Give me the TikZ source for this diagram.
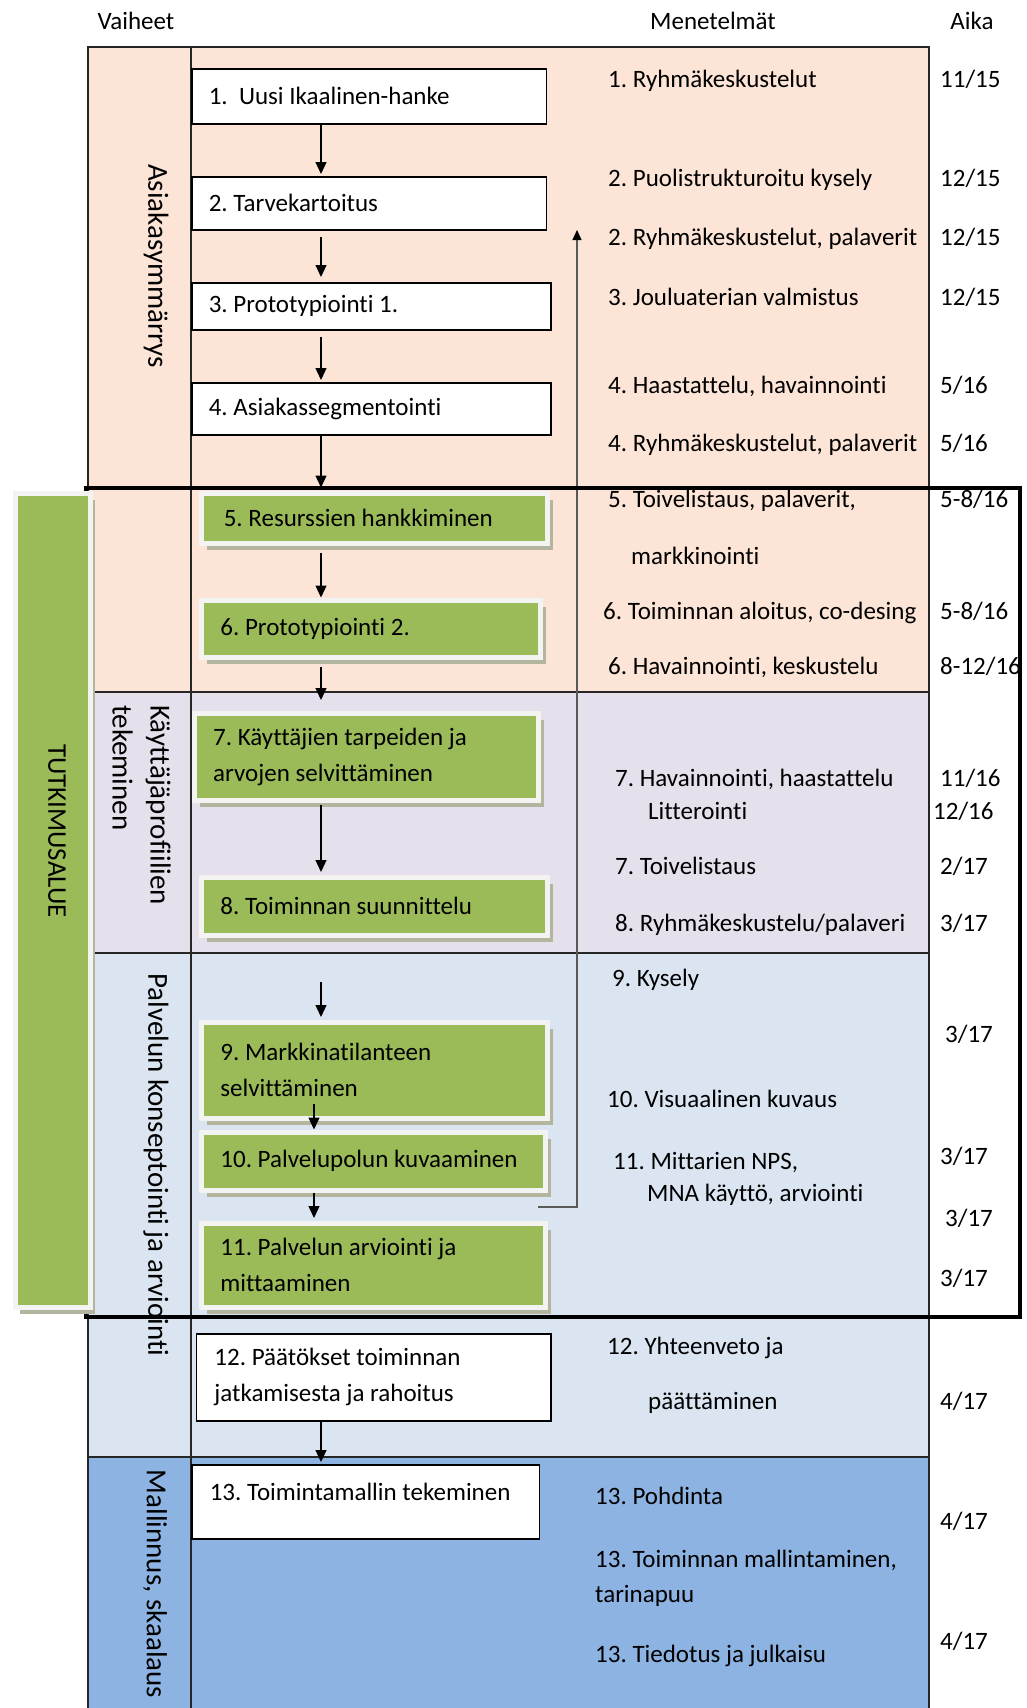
\documentclass[tikz,border=0pt]{standalone}
\usepackage{fontspec}
\setmainfont{Carlito}[Ligatures=NoCommon]
\usetikzlibrary{arrows.meta,shadows,calc}
\frenchspacing
\definecolor{peach}{HTML}{FCE4D6}
\definecolor{lav}{HTML}{E5E0EC}
\definecolor{lblue}{HTML}{DBE5F1}
\definecolor{dblue}{HTML}{8DB3E2}
\definecolor{ogreen}{HTML}{9BBB59}
\definecolor{gborder}{HTML}{F3F3F1}
\definecolor{gshadow}{HTML}{B3B59E}
\begin{document}
\begin{tikzpicture}[x=1pt,y=-1pt,
  every node/.style={font=\fontsize{25}{36}\selectfont},
  gridline/.style={line width=1.5pt, draw=black!85},
  whitebox/.style={draw=black, line width=1.5pt, fill=white, anchor=north west,
    inner xsep=17pt, inner ysep=0pt, align=flush left},
  greenbox/.style={draw=gborder, line width=5pt, fill=ogreen, anchor=north west,
    inner xsep=18.6pt, inner ysep=0pt, align=flush left,
    drop shadow={shadow xshift=5pt, shadow yshift=-7pt, fill=gshadow, opacity=1}},
  arr/.style={line width=1.3pt, -{Triangle[length=12pt,width=11pt]}},
  thinarr/.style={line width=1.2pt, draw=black!65, -{Triangle[length=10pt,width=9pt,color=black]}},
  meth/.style={anchor=mid west, inner sep=0pt, yshift=-2pt},
  phase/.style={rotate=-90, inner sep=0pt, font=\fontsize{29}{39}\selectfont},
  head/.style={inner sep=0pt},
]
\useasboundingbox (0,0) rectangle (1026,1708);

% phase bands
\fill[peach] (88,47) rectangle (929,692);
\fill[lav] (88,692) rectangle (929,953);
\fill[lblue] (88,953) rectangle (929,1457);
\fill[dblue] (88,1457) rectangle (929,1708);

% grid lines
\draw[gridline] (88,1708) -- (88,47) -- (929,47) -- (929,1708);
\draw[gridline] (191,47) -- (191,1708);
\draw[gridline] (88,692) -- (929,692);
\draw[gridline] (88,953) -- (929,953);
\draw[gridline] (88,1457) -- (929,1457);

% headers
\node[head] (hvaiheet) at (136,21) {Vaiheet};
\node[head] (hmenet) at (713,21) {Menetelmät};
\node[head] (haika) at (972,21) {Aika};

% phase labels
\node[phase] (pasiakas) at (156,266) {Asiakasymmärrys};
\node[phase, anchor=north west, align=flush left, font=\fontsize{29}{38}\selectfont] (pkayt) at (171,705) {Käyttäjäprofiilien\\tekeminen};
\node[phase] (ppalvelu) at (156,1165) {Palvelun konseptointi ja arviointi};
\node[phase] (pmallinnus) at (155,1584) {Mallinnus, skaalaus};

% thin feedback connector
\coordinate (fbstart) at (538,1207);
\coordinate (fbend) at (577,230);
\draw[thinarr] (fbstart) -| (fbend);

% step boxes
\node[whitebox, minimum height=55pt, text width=320.5pt] (b1) at (191,68) {1.\ \ Uusi Ikaalinen-hanke};
\node[whitebox, minimum height=53pt, text width=320.5pt] (b2) at (191,176) {2. Tarvekartoitus};
\node[whitebox, minimum height=47pt, text width=325pt] (b3) at (191,282) {3. Prototypiointi 1.};
\node[whitebox, minimum height=52pt, text width=325pt] (b4) at (191,382) {4. Asiakassegmentointi};
\node[greenbox, minimum height=50pt, text width=302pt, inner xsep=22pt] (b5) at (199.3,490.5) {5. Resurssien hankkiminen};
\node[greenbox, minimum height=57pt, text width=301.8pt] (b6) at (199.3,597.5) {6. Prototypiointi 2.};
\node[greenbox, minimum height=87pt, text width=307.1pt] (b7) at (192.1,710.5) {7. Käyttäjien tarpeiden ja\\arvojen selvittäminen};
\node[greenbox, minimum height=58pt, text width=308.8pt] (b8) at (199.3,874.5) {8. Toiminnan suunnittelu};
\node[greenbox, minimum height=96pt, text width=308.8pt] (b9) at (199.3,1019.5) {9. Markkinatilanteen\\selvittäminen};
\node[greenbox, minimum height=58pt, text width=306.8pt] (b10) at (199.3,1129.5) {10. Palvelupolun kuvaaminen};
\node[greenbox, minimum height=84pt, text width=306.8pt] (b11) at (199.3,1220.5) {11. Palvelun arviointi ja\\mittaaminen};
\node[whitebox, minimum height=87pt, text width=318.3pt, inner xsep=18pt] (b12) at (195.7,1333) {12. Päätökset toiminnan\\jatkamisesta ja rahoitus};
\node[whitebox, minimum height=74pt, text width=311.6pt, inner xsep=18pt, text height=18.75pt, text depth=20.75pt] (b13) at (191,1464) {13. Toimintamallin tekeminen};

% arrows
\coordinate (ax) at (321,0);
\coordinate (ax2) at (314,0);
\coordinate (in9) at (321,982);
\draw[arr, shorten >=2pt] (b1.south -| ax) -- (b2.north -| ax);
\draw[arr, shorten <=6pt, shorten >=5pt] (b2.south -| ax) -- (b3.north -| ax);
\draw[arr, shorten <=6pt, shorten >=2pt] (b3.south -| ax) -- (b4.north -| ax);
\draw[arr, shorten >=3pt] (b4.south -| ax) -- (b5.north -| ax);
\draw[arr, shorten <=7pt] (b5.south -| ax) -- (b6.north -| ax);
\draw[arr, shorten <=7.5pt, shorten >=10.5pt] (b6.south -| ax) -- (b7.north -| ax);
\draw[arr, shorten <=2.5pt, shorten >=2.5pt] (b7.south -| ax) -- (b8.north -| ax);
\draw[arr, shorten >=2.5pt] (in9) -- (b9.north -| ax);
\draw[arr] ($(b9.south -| ax2)+(0,-16.5)$) -- (b10.north -| ax2);
\draw[arr, shorten >=2.5pt] (b10.south -| ax2) -- (b11.north -| ax2);
\draw[arr, shorten >=2pt] (b12.south -| ax) -- (b13.north -| ax);

% methods
\node[meth] (m1) at (608,83) {1. Ryhmäkeskustelut};
\node[meth] (m2) at (608,182) {2. Puolistrukturoitu kysely};
\node[meth] (m3) at (608,241) {2. Ryhmäkeskustelut, palaverit};
\node[meth] (m4) at (608,301) {3. Jouluaterian valmistus};
\node[meth] (m5) at (608,389) {4. Haastattelu, havainnointi};
\node[meth] (m6) at (608,447) {4. Ryhmäkeskustelut, palaverit};
\node[meth] (m7) at (608,503) {5. Toivelistaus, palaverit,};
\node[meth] (m8) at (631,560) {markkinointi};
\node[meth] (m9) at (603,615) {6. Toiminnan aloitus, co-desing};
\node[meth] (m10) at (608,670) {6. Havainnointi, keskustelu};
\node[meth] (m11) at (615,782) {7. Havainnointi, haastattelu};
\node[meth] (m12) at (648,815) {Litterointi};
\node[meth] (m13) at (615,870) {7. Toivelistaus};
\node[meth] (m14) at (615,927) {8. Ryhmäkeskustelu/palaveri};
\node[meth] (m15) at (612,982) {9. Kysely};
\node[meth] (m16) at (607,1103) {10. Visuaalinen kuvaus};
\node[meth] (m17) at (613,1165) {11. Mittarien NPS,};
\node[meth] (m18) at (647,1197) {MNA käyttö, arviointi};
\node[meth] (m19) at (607,1350) {12. Yhteenveto ja};
\node[meth] (m20) at (648,1405) {päättäminen};
\node[meth] (m21) at (595,1500) {13. Pohdinta};
\node[meth] (m22) at (595,1563) {13. Toiminnan mallintaminen,};
\node[meth] (m23) at (595,1598) {tarinapuu};
\node[meth] (m24) at (595,1658) {13. Tiedotus ja julkaisu};

% times
\node[meth] (t1) at (940,83) {11/15};
\node[meth] (t2) at (940,182) {12/15};
\node[meth] (t3) at (940,241) {12/15};
\node[meth] (t4) at (940,301) {12/15};
\node[meth] (t5) at (940,389) {5/16};
\node[meth] (t6) at (940,447) {5/16};
\node[meth] (t7) at (940,503) {5-8/16};
\node[meth] (t8) at (940,615) {5-8/16};
\node[meth] (t9) at (940,670) {8-12/16};
\node[meth] (t10) at (940,782) {11/16};
\node[meth] (t11) at (933,815) {12/16};
\node[meth] (t12) at (940,870) {2/17};
\node[meth] (t13) at (940,927) {3/17};
\node[meth] (t14) at (945,1038) {3/17};
\node[meth] (t15) at (940,1160) {3/17};
\node[meth] (t16) at (945,1222) {3/17};
\node[meth] (t17) at (940,1282) {3/17};
\node[meth] (t18) at (940,1405) {4/17};
\node[meth] (t19) at (940,1525) {4/17};
\node[meth] (t20) at (940,1645) {4/17};

% research area frame
\draw[line width=3.2pt] (86,488) rectangle (1020,1317);
\node[greenbox, minimum width=75pt, minimum height=814pt, inner xsep=0pt, text width=0pt] (tut) at (12.5,490.5) {};
\node[phase, font=\fontsize{27}{30}\selectfont] (tutlbl) at (57,831) {TUTKIMUSALUE};
\end{tikzpicture}
\end{document}
